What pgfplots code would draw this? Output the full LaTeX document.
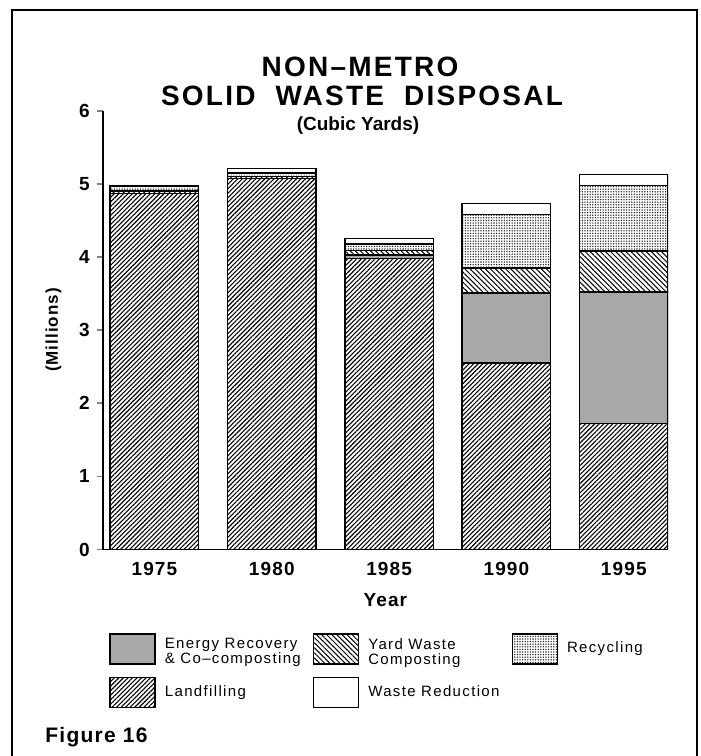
\documentclass[border=0pt]{standalone}
\usepackage{fontspec}
\setmainfont{Liberation Sans}
\newfontfamily\spaced[LetterSpace=6]{Liberation Sans}
\newfontfamily\legfont[LetterSpace=9]{Liberation Sans}
\newfontfamily\titlefont[LetterSpace=8]{Liberation Sans}
\usepackage{pgfplots}
\usepackage{pgfplotstable}
\pgfplotsset{compat=1.18}
\usetikzlibrary{patterns.meta}

% Non-metro solid waste disposal, millions of cubic yards
\pgfplotstableread{
x landfill energy yard recycling reduction
0 4.87 0.00 0.03 0.07 0.00
1 5.07 0.00 0.03 0.05 0.06
2 3.98 0.05 0.06 0.09 0.07
3 2.55 0.96 0.34 0.73 0.15
4 1.72 1.80 0.56 0.90 0.15
}\wastedata

\tikzset{
  landfill/.style={pattern={Lines[angle=45,distance=1.6pt,line width=0.55pt]}, pattern color=black},
  energy/.style={fill=black!34},
  yardwaste/.style={pattern={Lines[angle=-45,distance=1.8pt,line width=0.5pt]}, pattern color=black},
  recycling/.style={pattern={Dots[distance=1.3pt,radius=0.38pt]}, pattern color=black!85},
  reduction/.style={fill=white},
}
\pgfplotsset{
  boxleg/.style={legend image code/.code={\draw[##1,line width=0.75pt] (0pt,-7.5pt) rectangle (22.5pt,7.5pt);}},
}
\newcommand{\twolines}[2]{{\renewcommand{\arraystretch}{0.8}\begin{tabular}{@{}l@{}}#1\\#2\end{tabular}}}

\begin{document}
\begin{tikzpicture}
\begin{scope}[x=0.5pt,y=-0.5pt]
  \useasboundingbox (0,0) rectangle (701,756);
  \draw[line width=1pt] (12,770) -- (12,10) -- (697,10) -- (697,770);
  \node[anchor=base, inner sep=0pt, font=\titlefont\bfseries\fontsize{14}{14}\selectfont] at (360,76.5) {NON–METRO};
  \node[anchor=base, inner sep=0pt, font=\titlefont\bfseries\fontsize{14}{14}\selectfont] at (362,105) {SOLID \hspace{5pt}WASTE \hspace{5pt}DISPOSAL};
  \node[anchor=base, inner sep=0pt, font=\bfseries\fontsize{9.5}{10}\selectfont] at (358,130) {(Cubic Yards)};
  \node[anchor=base west, inner sep=0pt, font=\spaced\bfseries\fontsize{10.5}{12}\selectfont] at (45,742) {Figure 16};
\end{scope}

\begin{axis}[
  at={(51.35pt,-274.75pt)}, anchor=south west,
  scale only axis, width=282.65pt, height=219.4pt,
  xmin=-0.441, xmax=4.377, ymin=0, ymax=6,
  ybar stacked, bar width=44.25pt,
  axis x line*=bottom, axis y line*=left,
  axis line style={line width=0.8pt},
  xtick={0,...,4}, xticklabels={1975,1980,1985,1990,1995},
  xtick style={draw=none},
  ytick={0,...,6},
  ytick style={line width=0.8pt},
  major tick length=3pt, tick align=outside,
  /pgf/number format/assume math mode=true,
  tick label style={font=\spaced\bfseries\fontsize{9.5}{11}\selectfont},
  xlabel={Year}, ylabel={(Millions)},
  xlabel style={at={(axis description cs:0.5,-0.115)}, anchor=center, font=\spaced\bfseries\fontsize{9.5}{11}\selectfont},
  ylabel style={at={(axis description cs:-0.087,0.5)}, anchor=center, font=\spaced\bfseries\fontsize{8.5}{10}\selectfont},
  every axis plot/.append style={draw=black, line width=0.75pt},
  legend columns=3,
  legend cell align=left,
  legend style={at={(0.0111,-0.19)}, anchor=north west, draw=none, fill=none, inner sep=0pt,
    font=\legfont\fontsize{7.5}{8.5}\selectfont,
    /tikz/every odd column/.append style={column sep=2.5pt},
    /tikz/every even column/.append style={column sep=4pt},
    row sep=6pt},
]
\addplot[forget plot, landfill] table[x=x,y=landfill]{\wastedata};
\addplot[forget plot, energy] table[x=x,y=energy]{\wastedata};
\addplot[forget plot, yardwaste] table[x=x,y=yard]{\wastedata};
\addplot[forget plot, recycling] table[x=x,y=recycling]{\wastedata};
\addplot[forget plot, reduction] table[x=x,y=reduction]{\wastedata};

\addlegendimage{boxleg, energy}
\addlegendentry{\twolines{Energy Recovery}{\& Co–composting}}
\addlegendimage{boxleg, yardwaste}
\addlegendentry{\twolines{Yard Waste}{Composting}}
\addlegendimage{boxleg, recycling}
\addlegendentry{Recycling}
\addlegendimage{boxleg, landfill}
\addlegendentry{Landfilling}
\addlegendimage{boxleg, reduction}
\addlegendentry{Waste Reduction}
\end{axis}
\end{tikzpicture}
\end{document}
